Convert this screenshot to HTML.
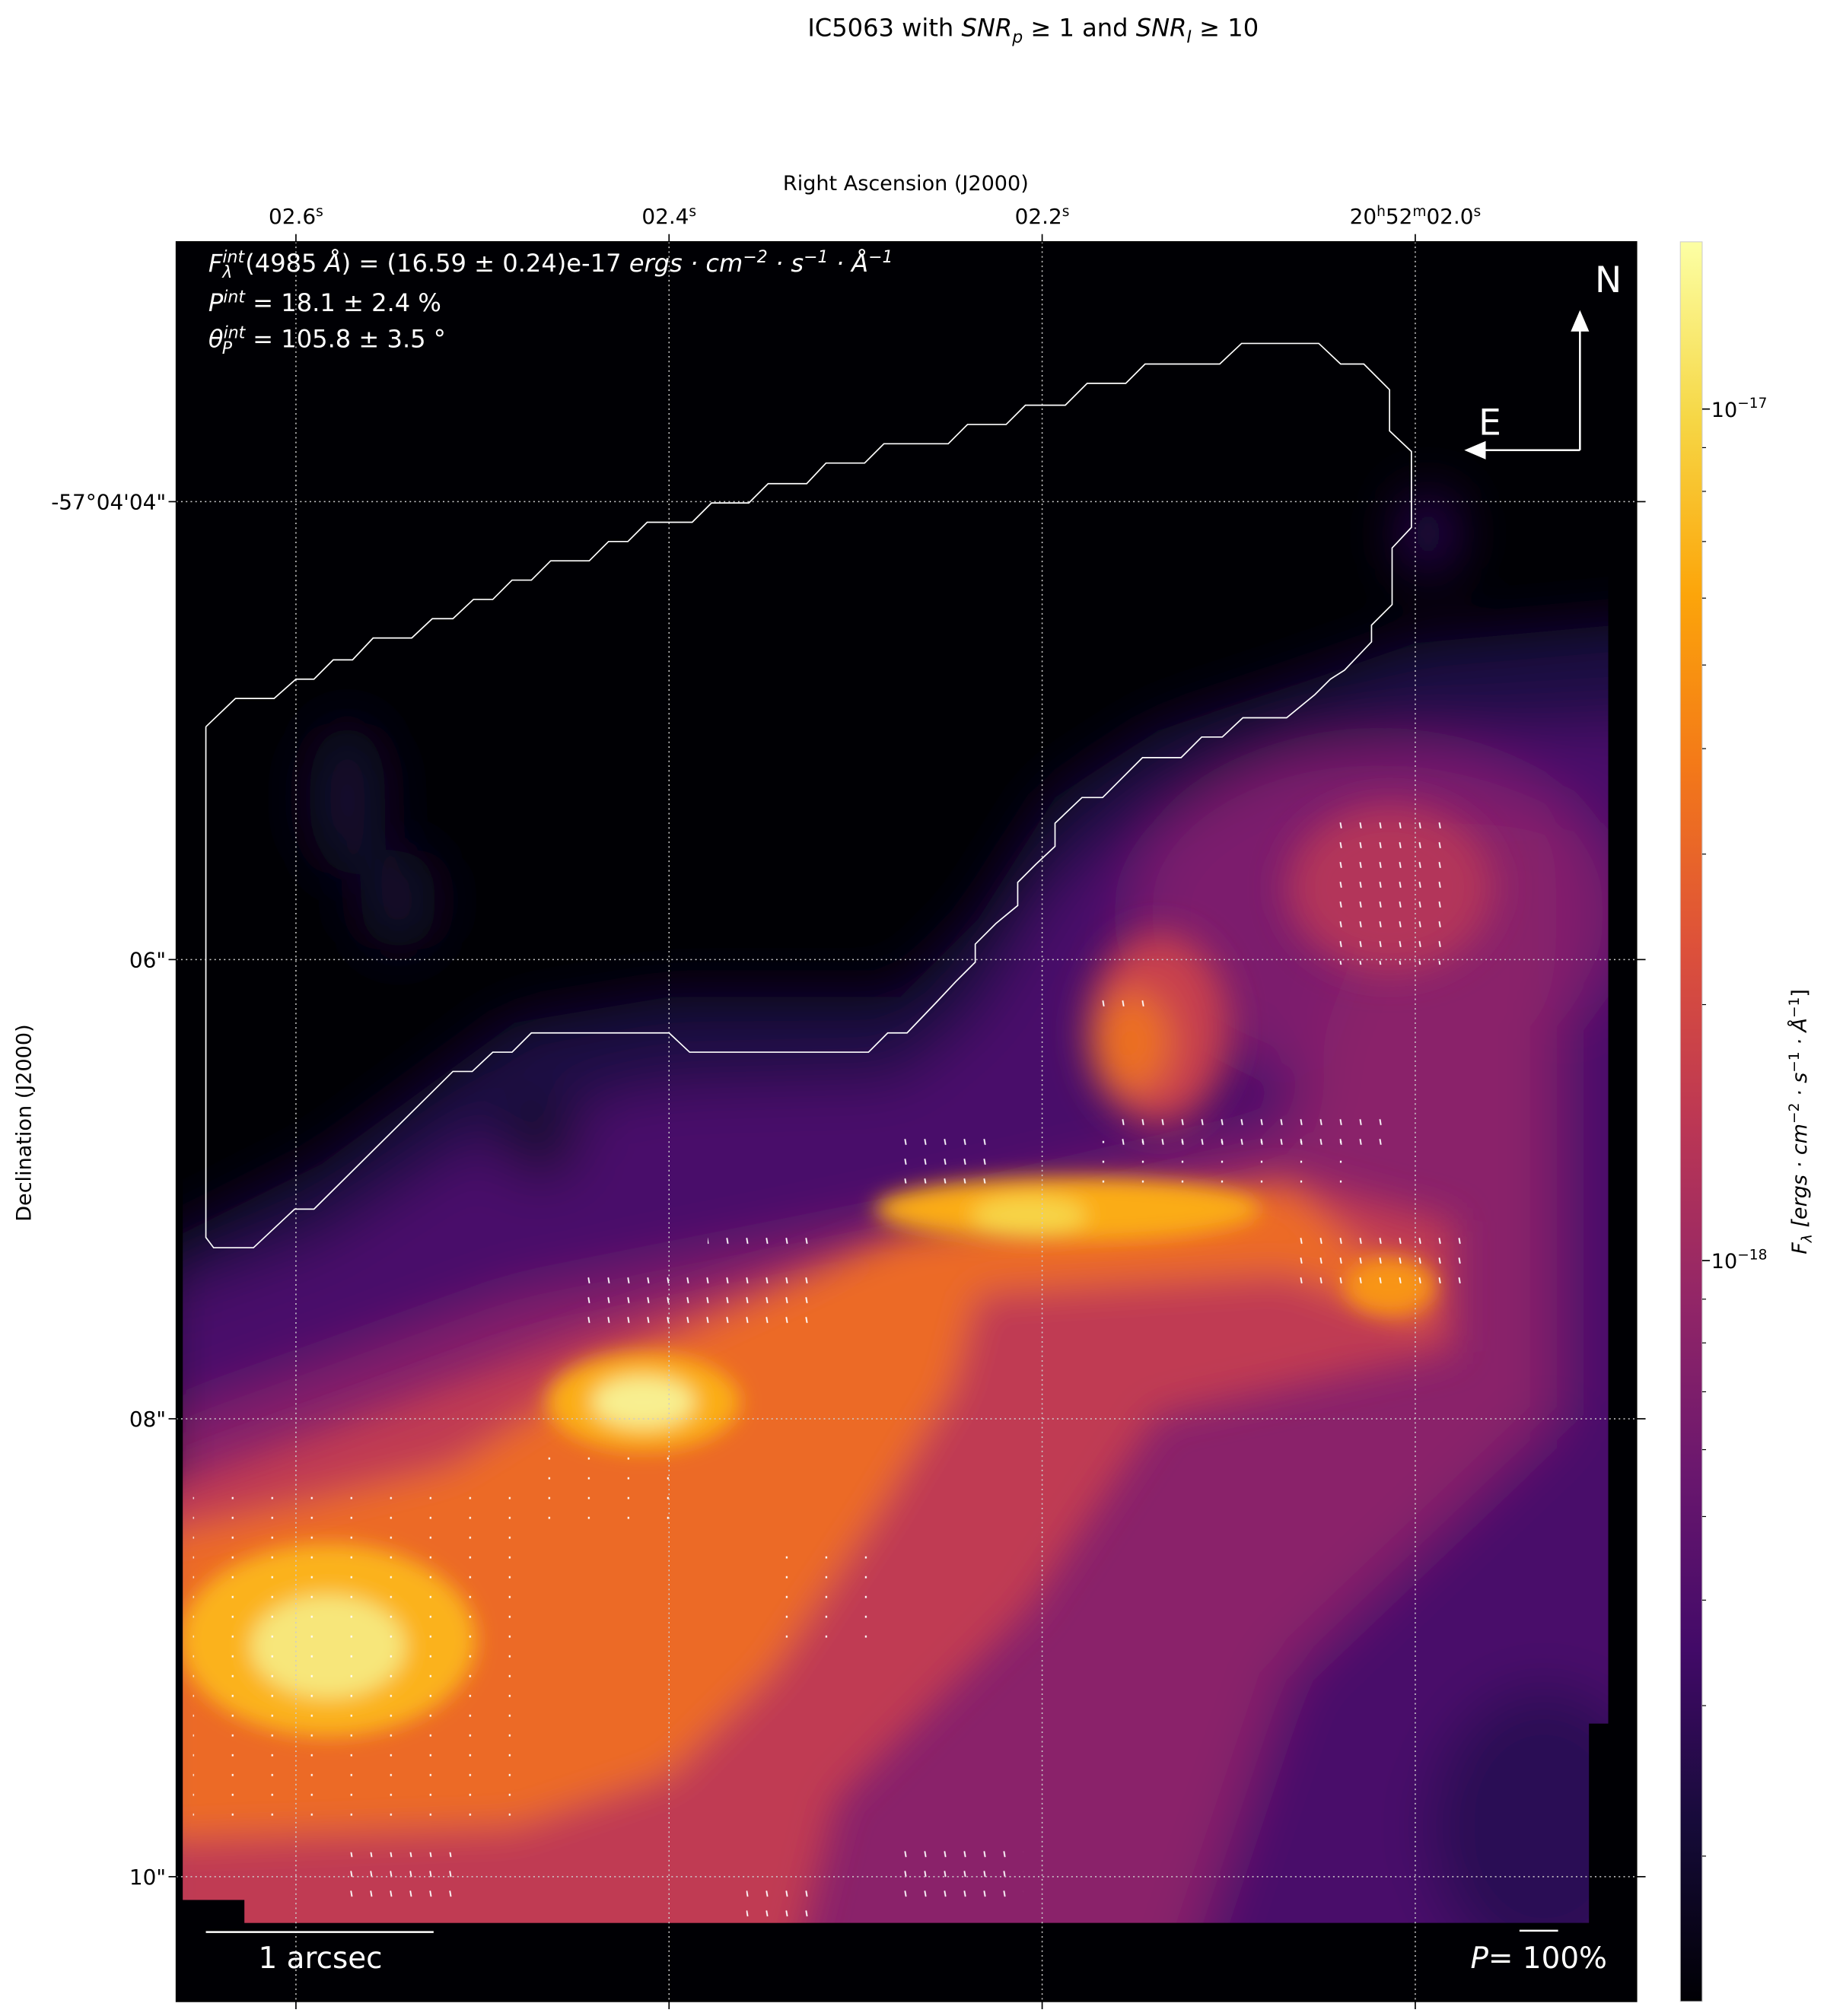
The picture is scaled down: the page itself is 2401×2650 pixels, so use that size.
<!DOCTYPE html>
<html><head><meta charset="utf-8"><style>html,body{margin:0;padding:0;background:#fff}svg{display:block}</style></head>
<body>
<svg xmlns="http://www.w3.org/2000/svg" width="2401" height="2650" viewBox="0 0 1420 1567.3" font-family="'DejaVu Sans','Liberation Sans',sans-serif">
<defs>
<linearGradient id="cb" x1="0" y1="1" x2="0" y2="0">
<stop offset="0" stop-color="#000004"/><stop offset="0.1" stop-color="#160b39"/><stop offset="0.2" stop-color="#420a68"/><stop offset="0.3" stop-color="#6a176e"/><stop offset="0.4" stop-color="#932667"/><stop offset="0.5" stop-color="#bc3754"/><stop offset="0.6" stop-color="#dd513a"/><stop offset="0.7" stop-color="#f37819"/><stop offset="0.8" stop-color="#fca50a"/><stop offset="0.9" stop-color="#f6d746"/><stop offset="1" stop-color="#fcffa4"/>
</linearGradient>
<pattern id="vt" x="142.4" y="187.9" width="15.38" height="15.38" patternUnits="userSpaceOnUse"><line x1="7.3" y1="5.5" x2="8.1" y2="10" stroke="#fff" stroke-width="1.1"/></pattern>
<pattern id="vd" x="142.4" y="187.9" width="30.76" height="15.38" patternUnits="userSpaceOnUse"><rect x="7" y="7" width="1.3" height="1.6" fill="#fff"/></pattern>
<clipPath id="dm"><polygon points="142,188 1250,188 1250,1340 1235,1340 1235,1495 190,1495 190,1477 142,1477"/></clipPath>
<filter id="b1" x="-30%" y="-30%" width="160%" height="160%"><feGaussianBlur stdDeviation="22"/></filter>
<filter id="b2" x="-30%" y="-30%" width="160%" height="160%"><feGaussianBlur stdDeviation="14"/></filter>
<filter id="b3" x="-50%" y="-50%" width="200%" height="200%"><feGaussianBlur stdDeviation="8"/></filter>
</defs>
<rect x="0" y="0" width="1420" height="1567.3" fill="#fff"/>
<text x="803" y="28" font-size="19" text-anchor="middle">IC5063 with <tspan font-style="italic">SNR</tspan><tspan font-size="13" dy="5" font-style="italic">p</tspan><tspan dy="-5"> ≥  1 and </tspan><tspan font-style="italic">SNR</tspan><tspan font-size="13" dy="5" font-style="italic">I</tspan><tspan dy="-5"> ≥  10</tspan></text>
<text x="704" y="148" font-size="16" text-anchor="middle">Right Ascension (J2000)</text>
<text transform="translate(24,873) rotate(-90)" font-size="16" text-anchor="middle">Declination (J2000)</text>
<rect x="137" y="188" width="1135" height="1368" fill="#000004"/>
<g clip-path="url(#dm)">
<g filter="url(#b1)">
<polygon fill="#1c0c44" points="120,970 250,905 400,795 520,775 700,775 760,715 820,620 900,568 1000,535 1100,500 1300,482 1300,1600 120,1600"/>
<polygon fill="#4a0c6b" points="120,1010 250,965 400,870 520,845 700,840 760,790 820,690 900,630 1000,600 1100,570 1300,560 1300,1600 120,1600"/>
<ellipse cx="1070" cy="710" rx="190" ry="130" fill="#7c1d6d"/>
<polygon fill="#8a226a" points="120,1110 400,1010 700,950 1000,880 1090,640 1210,640 1210,1100 1000,1300 900,1600 120,1600"/>
<ellipse cx="1200" cy="1420" rx="90" ry="110" fill="#2a0b55"/>
<ellipse cx="1110" cy="415" rx="18" ry="30" fill="#3b0f70"/>
<ellipse cx="270" cy="620" rx="30" ry="60" fill="#120a30"/>
<ellipse cx="310" cy="700" rx="30" ry="40" fill="#120a30"/>
<ellipse cx="420" cy="885" rx="30" ry="30" fill="#0c0826"/>
</g>
<g filter="url(#b2)">
<polygon fill="#c03a52" points="120,1160 450,1040 700,960 1000,915 1130,950 1130,1050 900,1100 800,1250 650,1400 600,1600 120,1600"/>
<ellipse cx="1080" cy="690" rx="80" ry="65" fill="#b3345a"/>
<ellipse cx="900" cy="800" rx="55" ry="75" fill="#c8404e"/>
<polygon fill="#ec6a26" points="120,1195 350,1140 470,1065 700,960 1000,920 1060,975 1110,995 1110,1030 1000,990 760,1005 740,1080 680,1180 600,1300 520,1380 400,1420 120,1430"/>
<ellipse cx="880" cy="810" rx="30" ry="40" fill="#ec7022"/>
</g>
<g filter="url(#b3)">
<ellipse cx="255" cy="1275" rx="115" ry="75" fill="#fbb21a"/>
<ellipse cx="500" cy="1090" rx="75" ry="38" fill="#fbae18"/>
<ellipse cx="830" cy="940" rx="150" ry="25" fill="#fbac14"/>
<ellipse cx="1080" cy="1000" rx="35" ry="22" fill="#f89412"/>
<ellipse cx="255" cy="1280" rx="60" ry="40" fill="#f7e67a"/>
<ellipse cx="500" cy="1090" rx="40" ry="20" fill="#f8ef90"/>
<ellipse cx="800" cy="945" rx="45" ry="15" fill="#f7d446"/>
</g>
<g fill="url(#vt)">
<rect x="1035" y="635" width="90" height="115"/>
<rect x="850" y="770" width="40" height="20"/>
<rect x="860" y="860" width="220" height="30"/>
<rect x="700" y="880" width="70" height="40"/>
<rect x="550" y="955" width="90" height="20"/>
<rect x="455" y="985" width="185" height="45"/>
<rect x="1005" y="960" width="135" height="45"/>
<rect x="580" y="1460" width="50" height="30"/>
<rect x="700" y="1430" width="95" height="45"/>
<rect x="260" y="1440" width="100" height="35"/>
</g>
<g fill="url(#vd)">
<rect x="150" y="1160" width="250" height="260"/>
<rect x="400" y="1130" width="130" height="60"/>
<rect x="595" y="1205" width="100" height="80"/>
<rect x="850" y="880" width="220" height="40"/>
</g>
</g>
<g stroke="#ccc" stroke-width="0.9" stroke-dasharray="1.2,2.5" fill="none">
<line x1="230" y1="188" x2="230" y2="1556"/><line x1="520" y1="188" x2="520" y2="1556"/><line x1="810" y1="188" x2="810" y2="1556"/><line x1="1100" y1="188" x2="1100" y2="1556"/>
<line x1="137" y1="390" x2="1272" y2="390"/><line x1="137" y1="746" x2="1272" y2="746"/><line x1="137" y1="1103" x2="1272" y2="1103"/><line x1="137" y1="1459" x2="1272" y2="1459"/>
</g>
<polyline fill="none" stroke="#fff" stroke-width="1" points="160,565 183,543 213,543 230,528 244,528 259,513 274,513 290,496 320,496 336,481 352,481 368,466 383,466 398,451 413,451 428,436 458,436 473,421 488,421 503,406 538,406 553,391 582,391 597,376 627,376 642,360 672,360 687,345 737,345 752,330 782,330 797,315 828,315 845,298 875,298 890,283 948,283 965,267 1025,267 1042,283 1060,283 1080,303 1080,335 1097,351 1097,410 1082,426 1082,470 1066,486 1066,499 1045,521 1034,528 1022,540 1000,558 966,558 950,573 934,573 918,589 888,589 872,605 857,620 841,620 820,640 820,658 805,672 791,686 791,704 774,718 758,734 758,748 743,763 728,779 705,803 690,803 675,818 536,818 520,803 413,803 398,818 383,818 367,833 352,833 244,940 229,940 197,970 166,970 160,962 160,565"/>
<g fill="#fff" font-size="19">
<text x="162" y="211" font-style="italic">F<tspan font-size="13" dy="-7">int</tspan><tspan font-size="13" dx="-17" dy="12">λ</tspan><tspan font-style="normal" dx="10" dy="-5">(4985 </tspan>Å<tspan font-style="normal">) = (16.59 ± 0.24)e-17 </tspan>ergs · cm<tspan font-size="13" dy="-7">−2</tspan><tspan dy="7"> · s</tspan><tspan font-size="13" dy="-7">−1</tspan><tspan dy="7"> · Å</tspan><tspan font-size="13" dy="-7">−1</tspan></text>
<text x="162" y="242" font-style="italic">P<tspan font-size="13" dy="-7">int</tspan><tspan font-style="normal" dy="7"> = 18.1 ± 2.4 %</tspan></text>
<text x="162" y="270" font-style="italic">θ<tspan font-size="13" dy="-7">int</tspan><tspan font-size="13" dx="-18" dy="12">P</tspan><tspan font-style="normal" dx="10" dy="-5"> = 105.8 ± 3.5 °</tspan></text>
<text x="1250" y="227" font-size="28" text-anchor="middle">N</text>
<text x="1158" y="338" font-size="28" text-anchor="middle">E</text>
<text x="249" y="1530" font-size="23" text-anchor="middle">1 arcsec</text>
<text x="1196" y="1530" font-size="23" text-anchor="middle"><tspan font-style="italic">P</tspan>= 100%</text>
</g>
<g stroke="#fff" stroke-width="1.5" fill="#fff">
<line x1="1228" y1="350" x2="1228" y2="255"/><polygon points="1222,257 1234,257 1228,243"/>
<line x1="1228" y1="350" x2="1152" y2="350"/><polygon points="1154,344 1154,356 1140,350"/>
<line x1="160" y1="1502" x2="337" y2="1502"/>
<line x1="1181" y1="1501" x2="1211" y2="1501"/>
</g>
<rect x="137" y="188" width="1135" height="1368" fill="none" stroke="#000" stroke-width="1"/>
<g stroke="#000" stroke-width="1">
<line x1="230" y1="188" x2="230" y2="182"/><line x1="520" y1="188" x2="520" y2="182"/><line x1="810" y1="188" x2="810" y2="182"/><line x1="1100" y1="188" x2="1100" y2="182"/>
<line x1="230" y1="1556" x2="230" y2="1562"/><line x1="520" y1="1556" x2="520" y2="1562"/><line x1="810" y1="1556" x2="810" y2="1562"/><line x1="1100" y1="1556" x2="1100" y2="1562"/>
<line x1="137" y1="390" x2="131" y2="390"/><line x1="137" y1="746" x2="131" y2="746"/><line x1="137" y1="1103" x2="131" y2="1103"/><line x1="137" y1="1459" x2="131" y2="1459"/>
<line x1="1272" y1="390" x2="1279" y2="390"/><line x1="1272" y1="746" x2="1279" y2="746"/><line x1="1272" y1="1103" x2="1279" y2="1103"/><line x1="1272" y1="1459" x2="1279" y2="1459"/>
</g>
<g font-size="16.5">
<text x="230" y="174" text-anchor="middle">02.6<tspan font-size="11" dy="-6">s</tspan></text>
<text x="520" y="174" text-anchor="middle">02.4<tspan font-size="11" dy="-6">s</tspan></text>
<text x="810" y="174" text-anchor="middle">02.2<tspan font-size="11" dy="-6">s</tspan></text>
<text x="1100" y="174" text-anchor="middle">20<tspan font-size="11" dy="-6">h</tspan><tspan dy="6">52</tspan><tspan font-size="11" dy="-6">m</tspan><tspan dy="6">02.0</tspan><tspan font-size="11" dy="-6">s</tspan></text>
<text x="129" y="396" text-anchor="end">-57°04'04"</text>
<text x="129" y="752" text-anchor="end">06"</text>
<text x="129" y="1109" text-anchor="end">08"</text>
<text x="129" y="1465" text-anchor="end">10"</text>
</g>
<rect x="1306" y="188" width="17" height="1368" fill="url(#cb)" stroke="#ccc" stroke-width="0.6"/>
<g stroke="#000" stroke-width="1">
<line x1="1323" y1="318" x2="1329" y2="318"/><line x1="1323" y1="980" x2="1329" y2="980"/>
<g stroke-width="0.7">
<line x1="1323" y1="781" x2="1326" y2="781"/><line x1="1323" y1="664" x2="1326" y2="664"/><line x1="1323" y1="582" x2="1326" y2="582"/><line x1="1323" y1="517" x2="1326" y2="517"/><line x1="1323" y1="465" x2="1326" y2="465"/><line x1="1323" y1="421" x2="1326" y2="421"/><line x1="1323" y1="382" x2="1326" y2="382"/><line x1="1323" y1="348" x2="1326" y2="348"/>
<line x1="1323" y1="1010" x2="1326" y2="1010"/><line x1="1323" y1="1044" x2="1326" y2="1044"/><line x1="1323" y1="1082" x2="1326" y2="1082"/><line x1="1323" y1="1127" x2="1326" y2="1127"/><line x1="1323" y1="1179" x2="1326" y2="1179"/><line x1="1323" y1="1244" x2="1326" y2="1244"/><line x1="1323" y1="1326" x2="1326" y2="1326"/><line x1="1323" y1="1443" x2="1326" y2="1443"/>
</g></g>
<g font-size="16">
<text x="1330" y="324">10<tspan font-size="11" dy="-7">−17</tspan></text>
<text x="1330" y="986">10<tspan font-size="11" dy="-7">−18</tspan></text>
</g>
<text transform="translate(1404,872) rotate(-90)" font-size="16" text-anchor="middle"><tspan font-style="italic">F</tspan><tspan font-size="11" dy="4" font-style="italic">λ</tspan><tspan dy="-4" font-style="italic"> [ergs · cm</tspan><tspan font-size="11" dy="-6">−2</tspan><tspan dy="6" font-style="italic"> · s</tspan><tspan font-size="11" dy="-6">−1</tspan><tspan dy="6" font-style="italic"> · Å</tspan><tspan font-size="11" dy="-6">−1</tspan><tspan dy="6">]</tspan></text>
</svg>
</body></html>
